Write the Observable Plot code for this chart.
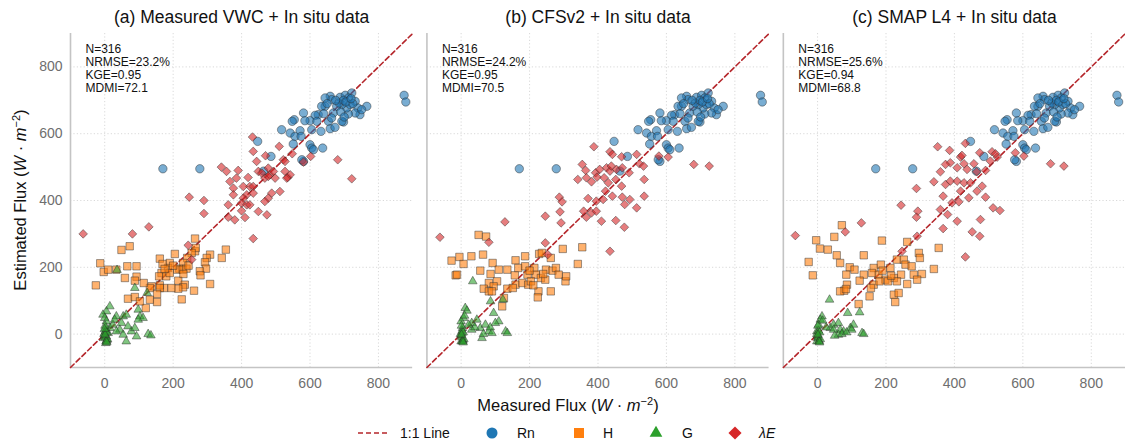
<!DOCTYPE html>
<html>
<head>
<meta charset="utf-8">
<script src="https://cdn.jsdelivr.net/npm/d3@7"></script>
<script src="https://cdn.jsdelivr.net/npm/@observablehq/plot@0.6"></script>
<style>
  body { margin: 0; background: #fff; font-family: "Liberation Sans", Arial, sans-serif; }
  #chart svg { display: block; }
  #legend { display: block; }
</style>
</head>
<body>
<div id="chart"></div>
<svg id="legend" width="1125" height="28"></svg>
<script>
// ---------- panels & statistics ----------
const panelKeys = ["a", "b", "c"];
const panelTitles = ["(a) Measured VWC + In situ data", "(b) CFSv2 + In situ data", "(c) SMAP L4 + In situ data"];
const nValues = [316, 316, 316];
const nrmseValues = [23.2, 24.2, 25.6];
const kgeValues = [0.95, 0.95, 0.94];
const mdmiValues = [72.1, 70.5, 68.8];

// ---------- axes ----------
const xDomain = [-100, 900];
const yDomain = [-100, 900];
const xTicks = [0, 200, 400, 600, 800];
const yTicks = [0, 200, 400, 600, 800];
const oneToOne = [-100, 900];

// ---------- series: [measured, estimated] ----------
const rnAll = [[875,715],[880,695],[170,495],[278,495],[659,712],[663,702],[688,709],[703,715],[722,722],[712,707],[732,697],[740,677],[766,682],[746,657],[732,662],[712,659],[698,635],[707,677],[693,687],[678,682],[668,662],[654,637],[644,682],[634,682],[624,657],[615,655],[600,639],[585,639],[581,662],[605,612],[632,607],[659,615],[673,619],[693,637],[554,642],[548,637],[517,612],[542,602],[556,592],[571,609],[574,592],[551,569],[600,567],[605,557],[610,552],[637,557],[447,577],[486,532],[581,517],[576,522],[644,707],[685,692],[717,687],[751,672],[663,647],[620,637],[464,488],[698,700],[725,690],[690,665],[650,690],[705,695],[675,700],[720,705],[640,660],[700,650]];

const hA = [[264,286],[354,253],[342,228],[308,238],[298,228],[293,215],[296,196],[264,248],[266,258],[254,243],[241,228],[229,213],[218,196],[205,240],[190,213],[185,198],[161,226],[169,210],[166,183],[159,173],[180,173],[190,183],[212,193],[228,193],[239,196],[278,188],[280,176],[215,160],[234,148],[229,140],[215,136],[195,138],[173,138],[161,146],[161,138],[137,143],[132,138],[114,153],[93,172],[88,160],[59,168],[153,120],[261,130],[308,150],[225,104],[120,78],[68,106],[88,111],[103,98],[49,252],[73,263],[-13,212],[-3,186],[10,193],[34,193],[66,203],[93,203],[-26,146],[132,103],[153,96],[200,205],[245,205],[175,195],[230,180]];
const hB = [[51,297],[73,292],[-28,220],[-5,231],[7,210],[30,233],[64,238],[-16,176],[56,190],[92,213],[110,193],[135,193],[159,221],[187,233],[228,240],[236,243],[262,228],[297,255],[354,260],[341,210],[86,180],[81,153],[105,158],[95,143],[66,136],[81,128],[90,128],[125,108],[120,83],[135,136],[159,148],[157,176],[167,198],[187,203],[194,178],[179,153],[196,148],[214,198],[218,178],[233,168],[248,193],[246,163],[267,190],[277,198],[285,178],[305,158],[307,173],[262,128],[226,128],[224,110],[204,158],[211,146],[151,138],[-12,178],[200,190],[240,180]];
const hC = [[71,326],[49,291],[-4,281],[7,256],[30,253],[56,236],[66,213],[-26,216],[-14,176],[135,236],[188,280],[262,276],[296,243],[299,228],[354,258],[340,195],[94,200],[108,193],[84,178],[135,178],[164,198],[185,208],[213,198],[232,223],[252,223],[257,208],[275,203],[281,178],[305,180],[291,163],[262,150],[244,178],[223,168],[198,163],[178,178],[159,183],[164,148],[181,158],[156,138],[123,160],[86,148],[78,130],[66,128],[152,113],[223,118],[227,96],[237,123],[120,90],[206,158],[232,158],[83,135],[190,190],[215,175]];

const gA = [[36,192],[88,138],[124,123],[15,83],[5,68],[-5,58],[0,48],[5,38],[3,18],[0,3],[5,-7],[7,-17],[3,-27],[-3,-12],[10,3],[15,18],[34,53],[54,53],[49,33],[63,58],[68,23],[44,13],[54,-2],[78,8],[93,-7],[98,73],[103,53],[112,48],[98,43],[63,-22],[34,8],[24,28],[127,0],[135,-4],[88,18],[29,43],[0,-5],[2,-10],[5,-20],[8,-15],[-2,0],[3,10],[6,5],[1,25],[4,-22],[1,-2],[6,-25],[-1,15]];
const gB = [[34,158],[86,98],[122,103],[95,63],[110,38],[100,33],[12,78],[17,70],[7,48],[0,38],[4,18],[2,3],[5,-17],[0,-22],[31,33],[46,43],[56,18],[71,28],[81,8],[90,3],[61,-12],[130,8],[135,3],[31,13],[22,28],[0,-5],[2,-10],[5,-20],[8,-15],[-2,0],[3,10],[6,5],[1,25],[4,-22],[10,55],[40,20],[65,0],[85,20],[1,-2],[6,-25]];
const gC = [[35,103],[88,63],[123,65],[13,53],[8,43],[3,28],[-2,8],[0,-12],[-2,-22],[37,18],[47,28],[61,33],[66,13],[76,8],[96,18],[105,28],[100,13],[61,-2],[71,0],[130,3],[135,0],[47,13],[0,-5],[2,-10],[5,-20],[8,-15],[-2,0],[3,10],[6,5],[1,25],[4,-22],[15,40],[25,20],[50,-5],[85,5],[1,-2],[6,-25]];

const leA = [[-63,300],[81,300],[129,321],[247,410],[290,400],[290,361],[434,286],[244,266],[254,223],[432,590],[510,562],[434,547],[444,517],[470,534],[548,540],[522,522],[527,517],[602,532],[581,515],[681,522],[722,465],[341,500],[356,487],[390,490],[385,467],[366,457],[376,437],[376,417],[419,469],[424,442],[434,442],[449,487],[459,482],[468,467],[478,497],[483,477],[493,487],[498,467],[478,472],[527,487],[535,469],[542,477],[532,467],[405,442],[415,417],[434,422],[405,407],[400,392],[415,387],[424,387],[488,422],[512,427],[478,407],[468,397],[361,387],[400,369],[361,350],[380,342],[410,349],[449,367],[474,357]];
const leB = [[388,561],[435,546],[442,538],[469,531],[513,538],[521,510],[533,503],[354,508],[364,490],[393,483],[405,493],[425,498],[435,488],[439,503],[454,493],[471,498],[491,483],[341,463],[366,468],[381,456],[397,470],[418,468],[430,453],[452,463],[469,443],[442,413],[422,428],[415,403],[395,398],[371,406],[471,410],[493,403],[478,388],[513,378],[535,413],[535,463],[366,350],[381,363],[395,368],[410,338],[452,340],[477,320],[358,368],[435,248],[287,410],[295,396],[289,366],[292,333],[246,353],[128,336],[-62,290],[81,275],[246,273],[253,238],[578,533],[605,530],[680,508],[725,503]];
const leC = [[351,561],[386,550],[418,530],[432,571],[474,543],[510,546],[525,530],[388,513],[374,508],[359,486],[408,498],[428,510],[437,493],[457,510],[465,486],[491,490],[505,518],[340,456],[374,448],[388,458],[408,458],[428,453],[447,453],[418,428],[442,408],[466,428],[481,443],[491,410],[513,378],[533,370],[367,413],[393,393],[413,396],[359,373],[380,358],[408,338],[367,316],[452,306],[474,293],[476,343],[289,436],[293,368],[289,350],[244,386],[291,293],[432,231],[128,333],[81,306],[-65,295],[247,248],[681,510],[720,503],[578,543],[603,533],[520,540],[422,535]];

// ---------- flux definitions ----------
const fluxNames = ["Rn", "H", "G", "λE"];
const fluxColors = ["#1f77b4", "#ff7f0e", "#2ca02c", "#d62728"];
const fluxSymbols = ["circle", "square", "triangle", "diamond2"];
const fluxRadii = [4.2, 4.2, 3.2, 3.9];
const seriesByPanel = {
  a: [rnAll, hA, gA, leA],
  b: [rnAll, hB, gB, leB],
  c: [rnAll, hC, gC, leC]
};

// ---------- build tables ----------
const rows = [];
panelKeys.forEach(p => {
  seriesByPanel[p].forEach((series, i) => {
    series.forEach(([x, y]) => rows.push({panel: p, flux: fluxNames[i], x, y}));
  });
});
const panels = panelKeys.map((k, i) => ({
  panel: k,
  title: panelTitles[i],
  stats: `N=${nValues[i]}\nNRMSE=${nrmseValues[i].toFixed(1)}%\nKGE=${kgeValues[i].toFixed(2)}\nMDMI=${mdmiValues[i].toFixed(1)}`
}));

const dotMarks = fluxNames.map((f, i) => Plot.dot(rows.filter(r => r.flux === f), {
  fx: "panel", x: "x", y: "y",
  symbol: fluxSymbols[i], r: fluxRadii[i],
  fill: fluxColors[i], fillOpacity: 0.6,
  stroke: "#2b2b2b", strokeOpacity: 0.65, strokeWidth: 0.7
}));

const chart = Plot.plot({
  width: 1125,
  height: 415,
  marginLeft: 70,
  marginRight: 0,
  marginTop: 33,
  marginBottom: 48,
  style: {fontFamily: "'Liberation Sans', Arial, sans-serif", fontSize: "14px", background: "#fff"},
  fx: {domain: panelKeys, paddingInner: 0.04, paddingOuter: 0, round: false, axis: null, label: null},
  x: {domain: xDomain, label: null},
  y: {domain: yDomain, label: null},
  marks: [
    Plot.gridX({ticks: xTicks, stroke: "#cfcfcf", strokeOpacity: 1, strokeWidth: 0.8, strokeDasharray: "1.2,2.2"}),
    Plot.gridY({ticks: yTicks, stroke: "#cfcfcf", strokeOpacity: 1, strokeWidth: 0.8, strokeDasharray: "1.2,2.2"}),
    Plot.ruleX([xDomain[0]], {stroke: "#c4c4c4", strokeWidth: 1.6}),
    Plot.ruleY([yDomain[0]], {stroke: "#c4c4c4", strokeWidth: 1.6}),
    Plot.axisX({ticks: xTicks, tickSize: 0, tickPadding: 11, fill: "#6e6e6e", fontSize: 14, label: null}),
    Plot.axisY({ticks: yTicks, tickSize: 0, tickPadding: 8, fill: "#6e6e6e", fontSize: 14, label: null}),
    Plot.line(oneToOne, {x: d => d, y: d => d, stroke: "#b5262b", strokeWidth: 1.6, strokeDasharray: "5,3"}),
    ...dotMarks,
    Plot.text(panels, {fx: "panel", text: "title", frameAnchor: "top", dy: -16, lineAnchor: "middle", fontSize: 17.5, fill: "#111"}),
    Plot.text(panels, {fx: "panel", text: "stats", frameAnchor: "top-left", dx: 15, dy: 10, lineAnchor: "top", textAnchor: "start", fontSize: 12, lineHeight: 1.08, fill: "#111"})
  ]
});
document.getElementById("chart").appendChild(chart);

// ---------- axis titles with math-style units ----------
const svg = d3.select(chart);
function unitLabel(sel) {
  sel.append("tspan").text(sel.attr("data-base"));
  sel.append("tspan").text("(");
  sel.append("tspan").attr("font-style", "italic").text("W");
  sel.append("tspan").text(" · ");
  sel.append("tspan").attr("font-style", "italic").text("m");
  sel.append("tspan").attr("font-size", "11px").attr("dy", "-6").text("−2");
  sel.append("tspan").attr("dy", "6").text(")");
}
svg.append("text")
  .attr("x", 568).attr("y", 411)
  .attr("text-anchor", "middle").attr("font-size", "16.5px").attr("fill", "#111")
  .attr("data-base", "Measured Flux ")
  .call(unitLabel);
svg.append("text")
  .attr("transform", "translate(26,200) rotate(-90)")
  .attr("text-anchor", "middle").attr("font-size", "16.5px").attr("fill", "#111")
  .attr("data-base", "Estimated Flux ")
  .call(unitLabel);

// ---------- legend ----------
const lg = d3.select("#legend").attr("font-family", "'Liberation Sans', Arial, sans-serif");
const cy = 18;
lg.append("line").attr("x1", 358).attr("x2", 389).attr("y1", cy).attr("y2", cy)
  .attr("stroke", "#b5262b").attr("stroke-width", 1.6).attr("stroke-dasharray", "5,3");
lg.append("text").attr("x", 400).attr("y", cy).attr("dy", "0.35em").attr("font-size", "14px").attr("fill", "#111").text("1:1 Line");
const legendItems = [
  {sym: d3.symbolCircle, size: 95, cx: 492, tx: 517},
  {sym: d3.symbolSquare, size: 100, cx: 579, tx: 603},
  {sym: d3.symbolTriangle, size: 70, cx: 656, tx: 682},
  {sym: d3.symbolDiamond2, size: 110, cx: 735, tx: 759}
];
legendItems.forEach((it, i) => {
  lg.append("path").attr("d", d3.symbol(it.sym, it.size)()).attr("transform", `translate(${it.cx},${cy})`)
    .attr("fill", fluxColors[i]);
  const t = lg.append("text").attr("x", it.tx).attr("y", cy).attr("dy", "0.35em").attr("font-size", "14px").attr("fill", "#111");
  if (fluxNames[i] === "λE") {
    t.attr("font-style", "italic").text("λE");
  } else {
    t.text(fluxNames[i]);
  }
});
</script>
</body>
</html>
